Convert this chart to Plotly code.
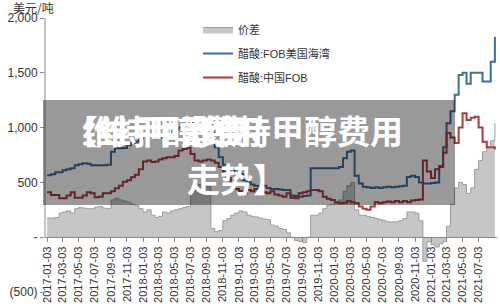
import plotly.graph_objects as go
import pandas as pd

# ---- data (half-monthly: 3rd and 18th of each month, 2017-01-03 .. 2021-09-03) ----
blue_fob_us_gulf = [
    566, 575, 593, 593, 610, 620, 630, 657, 665, 675,
    670, 657, 657, 657, 657, 660, 780, 812, 812, 815,
    840, 860, 870, 900, 930, 940, 930, 920, 910, 930,
    950, 970, 980, 1000, 1020, 1040, 1050, 1060, 1060, 1050,
    1030, 977, 820, 730, 660, 640, 620, 600, 580, 520,
    500, 480, 470, 460, 470, 450, 440, 440, 435, 430,
    430, 380, 375, 370, 375, 380, 630, 630, 630, 630,
    630, 630, 630, 640, 720, 780, 790, 560, 490, 460,
    455, 450, 455, 450, 455, 460, 455, 460, 465, 470,
    550, 560, 550, 500, 490, 490, 495, 500, 650, 820,
    1040, 1150, 1300, 1480, 1500, 1400, 1500, 1500, 1500, 1420,
    1420, 1600, 1830,
]
red_fob_china = [
    410, 385, 385, 356, 356, 380, 410, 360, 360, 380,
    410, 400, 365, 370, 400, 400, 420, 447, 470, 505,
    520, 548, 570, 620, 690, 700, 685, 690, 710, 720,
    730, 730, 740, 790, 805, 815, 760, 700, 690, 700,
    710, 700, 680, 640, 600, 540, 480, 440, 420, 400,
    430, 420, 440, 410, 410, 400, 420, 390, 380, 370,
    400, 360, 355, 400, 410, 420, 430, 430, 420, 370,
    350, 340, 320, 310, 315, 330, 320, 310, 280, 260,
    250, 280, 320, 310, 320, 325, 320, 330, 320, 330,
    320, 335, 340, 345, 700, 600, 540, 620, 640, 770,
    950, 910, 860, 1000, 1130, 1070, 1090, 1100, 1000, 870,
    820, 820, 800,
]
spread = [
    175, 175, 180, 220, 230, 240, 220, 260, 270, 265,
    260, 260, 275, 280, 265, 260, 340, 355, 340, 330,
    320, 300, 290, 260, 230, 250, 200, 180, 190, 230,
    220, 240, 250, 260, 270, 280, 440, 470, 480, 470,
    460, 80, 50, 60, 150, 170, 200, 220, 240, 230,
    200, 190, 185, 175, 165, 160, 110, 100, 80, 70,
    40, 0, -30, -40, -50, 0, 200, 200, 220, 260,
    290, 300, 310, 340, 420, 470, 500, 250, 200, 200,
    190, 180, 170, 160, 150, 140, 140, 140, 150, 170,
    230, 230, 220, 150, -220, -40, -70, -90, -60, -40,
    100, 300, 450, 500, 480, 400, 450, 620, 700, 780,
    820, 880, 1040,
]

dates = []
for y in range(2017, 2022):
    for mth in range(1, 13):
        for d in (3, 18):
            dt = pd.Timestamp(year=y, month=mth, day=d)
            if dt <= pd.Timestamp("2021-09-03"):
                dates.append(dt)
dates = dates[:len(spread)]

tick_dates = [f"{y}-{m:02d}-03" for y in range(2017, 2022) for m in (1, 3, 5, 7, 9, 11)
              if pd.Timestamp(f"{y}-{m:02d}-03") <= pd.Timestamp("2021-07-03")]

y_tickvals = [-500, 0, 500, 1000, 1500, 2000]
y_ticktext = ["(500)", "-", "500", "1,000", "1,500", "2,000"]

FONT = "Liberation Sans, Arial, Noto Sans CJK SC, sans-serif"
CJK = "Noto Sans CJK SC, sans-serif"

fig = go.Figure()
fig.add_trace(go.Scatter(
    x=dates, y=spread, name="价差", mode="lines", line_shape="hv",
    fill="tozeroy", fillcolor="#c6c6c6", line=dict(color="#9c9c9c", width=1),
    legendgroup="a",
))
fig.add_trace(go.Scatter(
    x=dates, y=blue_fob_us_gulf, name="醋酸:FOB美国海湾", mode="lines", line_shape="hv",
    line=dict(color="#3d6d9c", width=2), legendgroup="b",
))
fig.add_trace(go.Scatter(
    x=dates, y=red_fob_china, name="醋酸:中国FOB", mode="lines", line_shape="hv",
    line=dict(color="#a83d3f", width=2), legendgroup="c",
))

W, H = 500, 307
L, R, T, B = 45, 3, 18, 15
pw, ph = W - L - R, H - T - B

def px(x):
    return (x - L) / pw

def py(y):
    return (H - B - y) / ph

title_font = dict(family=CJK, size=33, color="white")

fig.update_layout(
    width=W, height=H,
    margin=dict(l=L, r=R, t=T, b=B),
    paper_bgcolor="white", plot_bgcolor="white",
    font=dict(family=FONT, size=12, color="#333"),
    showlegend=True,
    legend=dict(
        x=px(198), y=py(15), xanchor="left", yanchor="top",
        bgcolor="rgba(0,0,0,0)", font=dict(size=11, color="#333"),
        tracegroupgap=5, itemwidth=30,
    ),
    xaxis=dict(
        type="date",
        range=["2016-12-26", "2021-09-11"],
        tickvals=tick_dates, ticktext=tick_dates,
        tickangle=-90, tickfont=dict(size=11, color="#333"),
        ticks="outside", ticklen=4, tickcolor="#888",
        showline=True, linecolor="#888", linewidth=1,
        showgrid=False, zeroline=False,
        anchor="free", position=0.2,
    ),
    yaxis=dict(
        range=[-500, 2000],
        tickvals=y_tickvals, ticktext=y_ticktext,
        tickfont=dict(size=12, color="#333"),
        ticks="outside", ticklen=4, tickcolor="#888",
        showline=False, showgrid=False, zeroline=False,
    ),
    shapes=[
        dict(type="line", xref="paper", yref="y", x0=0, x1=0, y0=0, y1=2000,
             line=dict(color="#888", width=1)),
        dict(type="rect", xref="paper", yref="paper",
             x0=px(43), x1=px(455), y0=py(205), y1=py(100),
             fillcolor="rgba(0,0,0,0.4)", line=dict(width=0), layer="above"),
    ],
    annotations=[
        dict(text="美元/吨", xref="paper", yref="paper", x=px(11), y=py(7.5),
             xanchor="left", yanchor="middle", showarrow=False,
             font=dict(family=CJK, size=12, color="#333")),
        dict(text="<b>【维甲醇费用</b>", xref="paper", yref="paper", x=px(63), y=py(130),
             xanchor="left", yanchor="middle", showarrow=False, font=title_font),
        dict(text="<b>维持甲醇费</b>", xref="paper", yref="paper", x=px(80), y=py(130),
             xanchor="left", yanchor="middle", showarrow=False, font=title_font),
        dict(text="<b>【维持甲醇费用</b>", xref="paper", yref="paper", x=px(405), y=py(130),
             xanchor="right", yanchor="middle", showarrow=False, font=title_font),
        dict(text="<b>走势】</b>", xref="paper", yref="paper", x=px(185), y=py(178),
             xanchor="left", yanchor="middle", showarrow=False, font=title_font),
    ],
)

fig.write_html("out.html")
